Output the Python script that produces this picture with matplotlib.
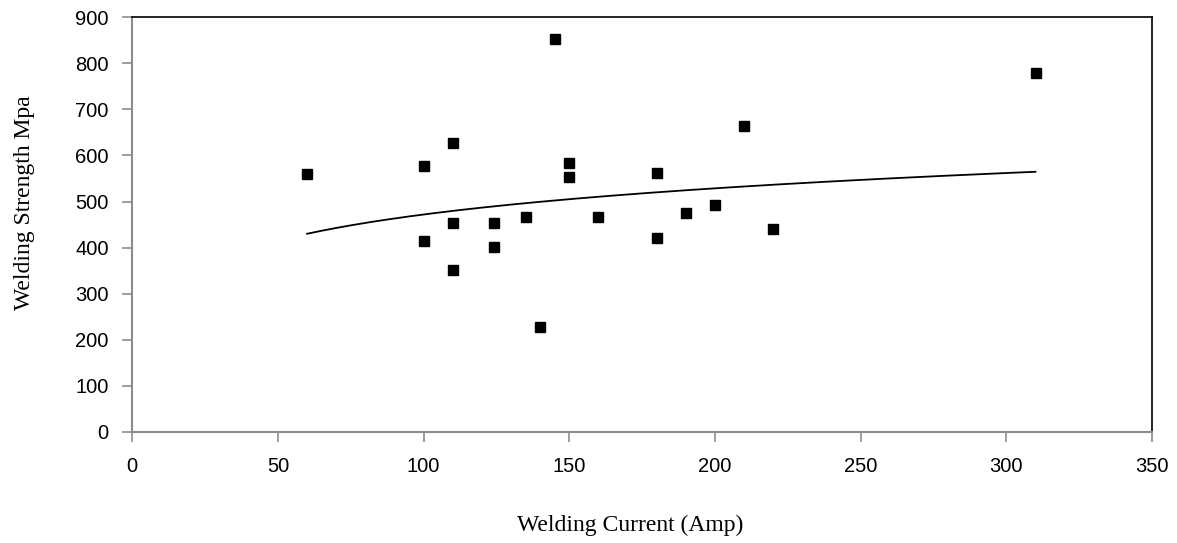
import numpy as np
import matplotlib.pyplot as plt

# welding data
current = [60, 100, 100, 110, 110, 110, 124, 124, 135, 140, 145, 150, 150,
           160, 180, 180, 190, 200, 210, 220, 310]
strength = [560, 577, 415, 628, 453, 351, 453, 401, 466, 227, 853, 584, 553,
            467, 563, 420, 474, 492, 663, 440, 779]

# logarithmic trend line y = a*ln(x) + b, coefficients
trend_a = 82.0
trend_b = 94.2

x = np.array(current, dtype=float)
y = np.array(strength, dtype=float)
xt = np.linspace(x.min(), x.max(), 200)
yt = trend_a * np.log(xt) + trend_b

fig = plt.figure(figsize=(11.77, 5.43), dpi=100)
ax = fig.add_axes([0.1124, 0.205, 0.8664, 0.763])

ax.plot(x, y, 's', color='black', markersize=6.5, zorder=3)
ax.plot(xt, yt, '-', color='black', linewidth=1.3)

ax.set_xlim(0, 350)
ax.set_ylim(0, 900)
ax.set_xticks(range(0, 351, 50))
ax.set_yticks(range(0, 901, 100))

for side in ['left', 'bottom']:
    ax.spines[side].set_color('#8c8c8c')
    ax.spines[side].set_linewidth(1.5)
for side in ['top', 'right']:
    ax.spines[side].set_color('black')
    ax.spines[side].set_linewidth(1.2)

ax.tick_params(axis='both', direction='out', length=7, width=1.2,
               color='#8c8c8c', labelsize=14.5)
ax.tick_params(axis='y', pad=10)
ax.tick_params(axis='x', pad=11)
for lbl in ax.get_xticklabels() + ax.get_yticklabels():
    lbl.set_fontfamily('Liberation Sans')

ax.set_xlabel("Welding Current (Amp)", fontfamily='Liberation Serif',
              fontsize=17)
ax.set_ylabel("Welding Strength Mpa", fontfamily='Liberation Serif',
              fontsize=17)
ax.xaxis.set_label_coords(0.488, -0.226)
ax.yaxis.set_label_coords(-0.106, 0.552)
ax.xaxis.label.set_va('center')
ax.yaxis.label.set_va('center')

fig.savefig("out.png", dpi=100)
